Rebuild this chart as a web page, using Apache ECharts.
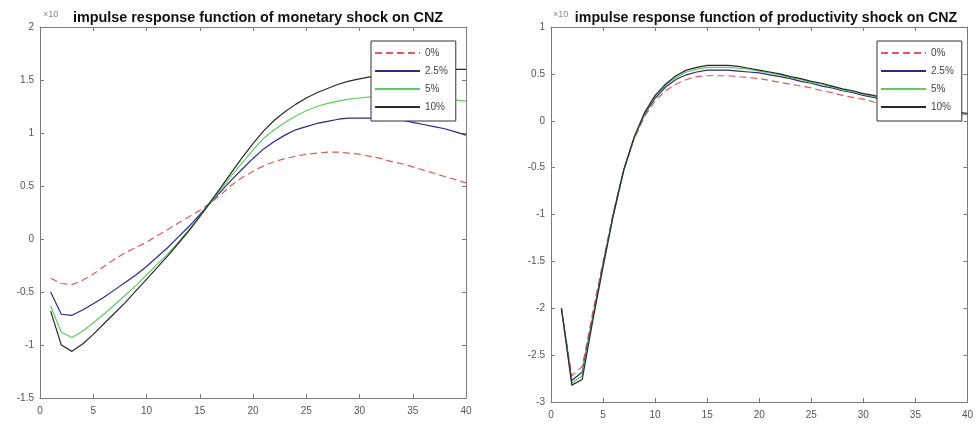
<!DOCTYPE html>
<html>
<head>
<meta charset="utf-8">
<script src="https://cdn.jsdelivr.net/npm/echarts@6/dist/echarts.min.js"></script>
<style>
  html, body { margin: 0; padding: 0; background: #fff; }
  #main { width: 976px; height: 425px; }
</style>
</head>
<body>
<div id="main"></div>
<script>
// 横轴：1..40 期
let periods = [];
for (let i = 1; i <= 40; i++) periods.push(i);

let names = ["0%", "2.5%", "5%", "10%"];
let colors = ["#e05a5a", "#2b2b80", "#5fcc5f", "#2a2a2a"];

// 货币冲击（×10^-3）
let mon0 = [-0.37, -0.42, -0.43, -0.39, -0.33, -0.26, -0.19, -0.13, -0.08, -0.03,
    0.03, 0.09, 0.15, 0.21, 0.27, 0.34, 0.42, 0.51, 0.58, 0.64,
    0.69, 0.73, 0.76, 0.78, 0.80, 0.81, 0.82, 0.82, 0.81, 0.80,
    0.78, 0.76, 0.73, 0.71, 0.68, 0.65, 0.62, 0.59, 0.56, 0.53];
let mon25 = [-0.50, -0.71, -0.72, -0.67, -0.61, -0.55, -0.48, -0.41, -0.34, -0.26,
    -0.17, -0.08, 0.02, 0.12, 0.23, 0.34, 0.45, 0.56, 0.66, 0.76,
    0.85, 0.92, 0.98, 1.03, 1.06, 1.09, 1.11, 1.13, 1.14, 1.14,
    1.14, 1.14, 1.13, 1.12, 1.10, 1.08, 1.06, 1.04, 1.01, 0.98];
let mon5 = [-0.63, -0.88, -0.93, -0.87, -0.79, -0.71, -0.62, -0.53, -0.44, -0.34,
    -0.24, -0.14, -0.03, 0.09, 0.21, 0.34, 0.47, 0.60, 0.72, 0.84,
    0.95, 1.03, 1.10, 1.16, 1.21, 1.25, 1.28, 1.30, 1.32, 1.33,
    1.34, 1.34, 1.34, 1.34, 1.33, 1.33, 1.32, 1.32, 1.31, 1.30];
let mon10 = [-0.68, -1.00, -1.06, -0.99, -0.90, -0.80, -0.70, -0.60, -0.49, -0.38,
    -0.27, -0.16, -0.04, 0.08, 0.21, 0.35, 0.49, 0.63, 0.77, 0.90,
    1.02, 1.12, 1.20, 1.27, 1.33, 1.38, 1.42, 1.46, 1.49, 1.51,
    1.53, 1.55, 1.56, 1.57, 1.58, 1.59, 1.59, 1.60, 1.60, 1.60];

// 生产率冲击
let pro0 = [-2.00, -2.72, -2.62, -2.05, -1.50, -0.97, -0.52, -0.19, 0.05, 0.21,
    0.32, 0.39, 0.44, 0.47, 0.48, 0.48, 0.48, 0.47, 0.46, 0.45,
    0.43, 0.41, 0.39, 0.37, 0.35, 0.32, 0.30, 0.27, 0.25, 0.23,
    0.20, 0.18, 0.16, 0.14, 0.12, 0.10, 0.09, 0.07, 0.06, 0.05];
let pro25 = [-2.00, -2.77, -2.68, -2.10, -1.53, -0.99, -0.52, -0.18, 0.07, 0.24,
    0.36, 0.44, 0.49, 0.52, 0.54, 0.54, 0.54, 0.53, 0.52, 0.51,
    0.49, 0.47, 0.45, 0.42, 0.40, 0.37, 0.35, 0.32, 0.30, 0.27,
    0.25, 0.22, 0.20, 0.18, 0.16, 0.14, 0.12, 0.10, 0.08, 0.07];
let pro5 = [-2.00, -2.80, -2.72, -2.12, -1.55, -1.00, -0.52, -0.18, 0.08, 0.26,
    0.38, 0.46, 0.52, 0.55, 0.57, 0.57, 0.57, 0.56, 0.55, 0.53,
    0.51, 0.49, 0.46, 0.44, 0.41, 0.39, 0.36, 0.33, 0.31, 0.28,
    0.26, 0.23, 0.21, 0.19, 0.16, 0.14, 0.12, 0.10, 0.09, 0.07];
let pro10 = [-2.00, -2.82, -2.76, -2.14, -1.56, -1.00, -0.52, -0.17, 0.09, 0.27,
    0.39, 0.48, 0.54, 0.57, 0.59, 0.59, 0.59, 0.58, 0.56, 0.54,
    0.52, 0.50, 0.47, 0.45, 0.42, 0.40, 0.37, 0.34, 0.32, 0.29,
    0.27, 0.24, 0.22, 0.19, 0.17, 0.15, 0.13, 0.11, 0.09, 0.08];

let monData = [mon0, mon25, mon5, mon10];
let proData = [pro0, pro25, pro5, pro10];

let axisColor = "#7a7a7a";
let labelColor = "#555";

function xAxes(grid) {
    let base = {
        type: "value", gridIndex: grid, min: 0, max: 40, interval: 5,
        splitLine: { show: false },
        axisLine: { show: true, onZero: false, lineStyle: { color: axisColor } },
        axisTick: { inside: true, length: 4, lineStyle: { color: axisColor } }
    };
    return [
        Object.assign({}, base, { position: "bottom", axisLabel: { color: labelColor, fontSize: 10, margin: 8, fontFamily: "Liberation Sans" } }),
        Object.assign({}, base, { position: "top", axisLabel: { show: false } })
    ];
}

function yAxes(grid, min, max) {
    let base = {
        type: "value", gridIndex: grid, min: min, max: max, interval: 0.5,
        splitLine: { show: false },
        axisLine: { show: true, onZero: false, lineStyle: { color: axisColor } },
        axisTick: { inside: true, length: 4, lineStyle: { color: axisColor } }
    };
    return [
        Object.assign({}, base, { position: "left", axisLabel: { color: labelColor, fontSize: 10, margin: 6, fontFamily: "Liberation Sans" } }),
        Object.assign({}, base, { position: "right", axisLabel: { show: false } })
    ];
}

function makeSeries(data, grid) {
    let out = [];
    for (let k = 0; k < names.length; k++) {
        out.push({
            name: names[k],
            type: "line",
            xAxisIndex: grid * 2,
            yAxisIndex: grid * 2,
            symbol: "none",
            smooth: false,
            data: periods.map((t, i) => [t, data[k][i]]),
            lineStyle: { color: colors[k], width: 1.2, type: k == 0 ? [7, 4] : "solid" },
            itemStyle: { color: colors[k] }
        });
    }
    return out;
}

function makeLegend(left) {
    return {
        orient: "vertical", left: left, top: 41,
        data: names,
        itemWidth: 45, itemHeight: 10, itemGap: 8,
        padding: [7, 8, 9, 3],
        borderColor: "#333", borderWidth: 1, backgroundColor: "#fff",
        selectedMode: false,
        itemStyle: { opacity: 0 },   // 只画线，不画圆点
        textStyle: { color: "#444", fontSize: 10, fontFamily: "Liberation Sans" }
    };
}

var chart = echarts.init(document.getElementById("main"));
var option = {
    animation: false,
    backgroundColor: "#fff",
    title: [
        { text: "impulse response function of monetary shock on CNZ", left: 253, top: 6, textAlign: "center",
          textStyle: { fontSize: 14.4, fontWeight: "bold", color: "#111", fontFamily: "Liberation Sans" } },
        { text: "impulse response function of productivity shock on CNZ", left: 761, top: 6, textAlign: "center",
          textStyle: { fontSize: 14.2, fontWeight: "bold", color: "#111", fontFamily: "Liberation Sans" } }
    ],
    graphic: [
        { type: "text", left: 43, top: 10, z: -1, style: { text: "×10", fill: "#888", font: "9px Liberation Sans" } },
        { type: "text", left: 553, top: 10, z: -1, style: { text: "×10", fill: "#888", font: "9px Liberation Sans" } }
    ],
    legend: [makeLegend(371), makeLegend(877)],
    grid: [
        { left: 40, top: 27, width: 426, height: 371 },
        { left: 551, top: 27, width: 420, height: 375 }
    ],
    xAxis: xAxes(0).concat(xAxes(1)),
    yAxis: yAxes(0, -1.5, 2).concat(yAxes(1, -3, 1)),
    series: makeSeries(monData, 0).concat(makeSeries(proData, 1))
};
chart.setOption(option);
</script>
</body>
</html>
